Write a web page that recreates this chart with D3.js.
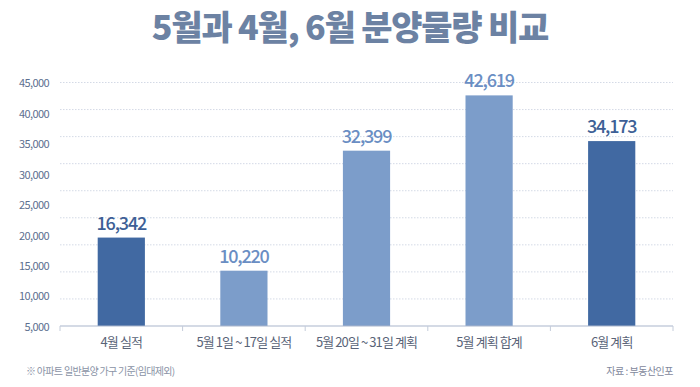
<!DOCTYPE html>
<html><head><meta charset="utf-8">
<script src="https://cdn.jsdelivr.net/npm/d3@7/dist/d3.min.js"></script>
<style>
html,body{margin:0;padding:0;background:#fff;}
svg{display:block;font-family:"Noto Sans CJK KR","Noto Sans",sans-serif;}
</style></head>
<body>
<svg id="c" width="700" height="387"></svg>
<script>
const categories = ["4월 실적","5월 1일 ~ 17일 실적","5월 20일 ~ 31일 계획","5월 계획 합계","6월 계획"];
const values = [16342, 10220, 32399, 42619, 34173];
const kinds = ["dark","light","light","light","dark"];
const gridValues = [5000,10000,15000,20000,25000,30000,35000,40000,45000];
const tickLabels = [5000,10000,15000,20000,25000,30000,35000,40000,45000];
const title = "5월과 4월, 6월 분양물량 비교";
const footnote = "※ 아파트 일반분양 가구 기준(임대제외)";
const source = "자료 : 부동산인포";

const svg = d3.select("#c");
const plotLeft = 60, plotRight = 673, plotBase = 326, plotTop = 82.5;
const x = d3.scaleBand().domain(categories).range([plotLeft, plotRight]).paddingInner(0.615).paddingOuter(0.3075);
const y = d3.scaleLinear().domain([0, 45000]).range([plotBase, plotTop]);
const yLab = d3.scaleLinear().domain([5000, 45000]).range([plotBase + 1, plotTop + 1]);
const fill = {dark:"#4169a2", light:"#7c9dca"};
const txt = {dark:"#3d5f96", light:"#6a8ec3"};

svg.append("text").attr("x", 350).attr("y", 40).attr("text-anchor","middle")
  .attr("font-size", 34).attr("font-weight", 900).attr("letter-spacing", -1.2)
  .attr("fill", "#6c82a3").text(title);

// grid
svg.append("g").selectAll("line").data(gridValues).join("line")
  .attr("x1", plotLeft).attr("x2", plotRight).attr("y1", d => y(d)).attr("y2", d => y(d))
  .attr("stroke", "#d4dae6").attr("stroke-width", 1).attr("stroke-dasharray", "1.5,1.5");

// y labels
svg.append("g").selectAll("text").data(tickLabels).join("text")
  .attr("x", 49).attr("y", d => yLab(d)).attr("dy", "0.35em").attr("text-anchor", "end")
  .attr("font-size", 11).attr("letter-spacing", -0.6).attr("fill", "#5d6f8f")
  .text(d => d3.format(",")(d));

// bars
svg.append("g").selectAll("rect").data(values).join("rect")
  .attr("x", (d,i) => x(categories[i])).attr("width", x.bandwidth())
  .attr("y", d => y(d)).attr("height", d => plotBase - y(d))
  .attr("fill", (d,i) => fill[kinds[i]]);

// value labels
svg.append("g").selectAll("text").data(values).join("text")
  .attr("x", (d,i) => x(categories[i]) + x.bandwidth()/2).attr("y", d => y(d) - 8)
  .attr("text-anchor", "middle").attr("font-size", 18).attr("font-weight", 500)
  .attr("letter-spacing", -1.2)
  .attr("fill", (d,i) => txt[kinds[i]]).text(d => d3.format(",")(d));

// x axis
const step = x.step();
const ax = svg.append("g");
ax.append("line").attr("x1", plotLeft).attr("x2", plotRight).attr("y1", plotBase).attr("y2", plotBase)
  .attr("stroke", "#a9b6cc").attr("stroke-width", 1.2);
const bounds = d3.range(categories.length + 1).map(i => plotLeft + i * step);
ax.selectAll("line.t").data(bounds).join("line").attr("class","t")
  .attr("x1", d => d).attr("x2", d => d).attr("y1", plotBase).attr("y2", plotBase + 5)
  .attr("stroke", "#c4ccda").attr("stroke-width", 1);
ax.selectAll("text").data(categories).join("text")
  .attr("x", d => x(d) + x.bandwidth()/2).attr("y", 342).attr("dy", "0.35em")
  .attr("text-anchor", "middle").attr("font-size", 13).attr("letter-spacing", -0.9)
  .attr("fill", "#5a6478").text(d => d);

svg.append("text").attr("x", 26).attr("y", 371).attr("dy", "0.35em")
  .attr("font-size", 10).attr("letter-spacing", -0.7).attr("fill", "#8a93a6").text(footnote);
svg.append("text").attr("x", 673).attr("y", 371).attr("dy", "0.35em").attr("text-anchor", "end")
  .attr("font-size", 10).attr("letter-spacing", -0.5).attr("fill", "#7f889c").text(source);
</script>
</body></html>
